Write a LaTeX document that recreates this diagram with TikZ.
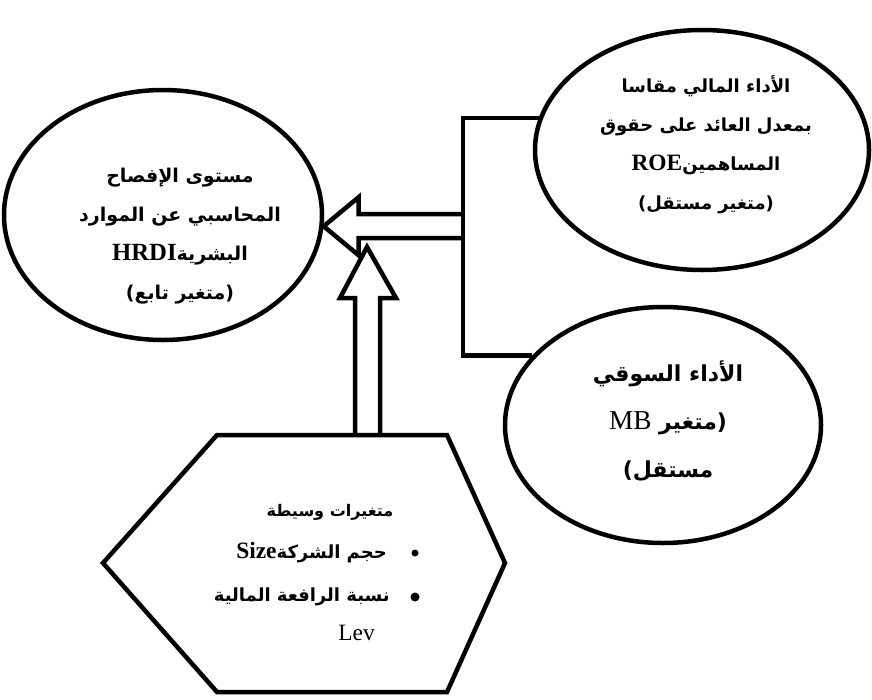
\documentclass[tikz,border=0pt]{standalone}
\usepackage{fontspec}
\usetikzlibrary{shapes.geometric,positioning}
\TeXXeTstate=1
\newfontfamily\arabicfont[Script=Arabic]{DejaVu Sans}
\newfontfamily\latinfont[Scale=1.3]{Liberation Serif}
\newcommand{\artxt}[1]{\beginR #1\endR}
\newcommand{\lattxt}[1]{\beginL{\latinfont #1}\endL}

\begin{document}
\begin{tikzpicture}[x=1pt, y=-1pt, line width=4.5pt, line join=miter,
	oval/.style = {draw, ellipse, inner sep=0pt},
	lbl/.style = {align=center, inner sep=1pt, font=\arabicfont\bfseries\fontsize{18}{39}\selectfont},
	dot/.style = {circle, fill, inner sep=0pt, minimum size=8pt}]
	\useasboundingbox (0,0) rectangle (872,699);
	% the three variables
	\node[oval, minimum width=318, minimum height=250] (hrdi) at (163,215) {};
	\node[oval, minimum width=334, minimum height=240] (roe) at (702,150) {};
	\node[oval, minimum width=316, minimum height=236] (mb) at (663,425) {};
	\node[lbl, font=\arabicfont\bfseries\fontsize{19}{39}\selectfont] (hrditxt) at (180,236) {\artxt{مستوى الإفصاح}\\ \artxt{المحاسبي عن الموارد}\\ \artxt{البشرية\lattxt{HRDI}}\\ \artxt{(متغير تابع)}};
	\node[lbl] (roetxt) at (706,145) {\artxt{الأداء المالي مقاسا}\\ \artxt{بمعدل العائد على حقوق}\\ \artxt{المساهمين\lattxt{ROE}}\\ \artxt{(متغير مستقل)}};
	\node[lbl, font=\arabicfont\bfseries\fontsize{22}{48}\selectfont] (mbtxt) at (668,421) {\artxt{الأداء السوقي}\\ \lattxt{\mdseries\fontsize{21}{22}\selectfont MB} \artxt{(متغير}\\ \artxt{مستقل)}};
	% moderators
	\draw (217,435) -- (447,435) -- (505,563) -- (447,692) -- (217,692) -- (103,563) -- cycle;
	\node[lbl, font=\arabicfont\bfseries\fontsize{16}{40}\selectfont] (modhead) at (330,512) {\artxt{متغيرات وسيطة}};
	\node[dot, minimum size=7pt] (b1) at (415,553) {};
	\node[lbl, anchor=east] (size) at (390,553) {\artxt{حجم الشركة\lattxt{Size}}};
	\node[dot, minimum size=9pt] (b2) at (415,597) {};
	\node[lbl, anchor=east] (lev) at (393,597) {\artxt{نسبة الرافعة المالية}};
	\node[lbl, anchor=east] (levcode) at (378,633) {\lattxt{\mdseries Lev}};
	% connectors
	\coordinate (hub) at (463,240);
	\coordinate (vtip) at (367,247);
	\draw (roe.169) -| (hub) |- (mb.152);
	\draw (hrdi.-4) ++(141,-12) -- ++(-106,0) -- ++(0,-17) -- (hrdi.-4) -- ++(35,29) -- ++(0,-17) -- ++(106,0);
	\draw (vtip) ++(-12,188) -- ++(0,-137) -- ++(-15,0) -- (vtip) -- ++(29,51) -- ++(-16,0) -- ++(0,137);
\end{tikzpicture}
\end{document}
